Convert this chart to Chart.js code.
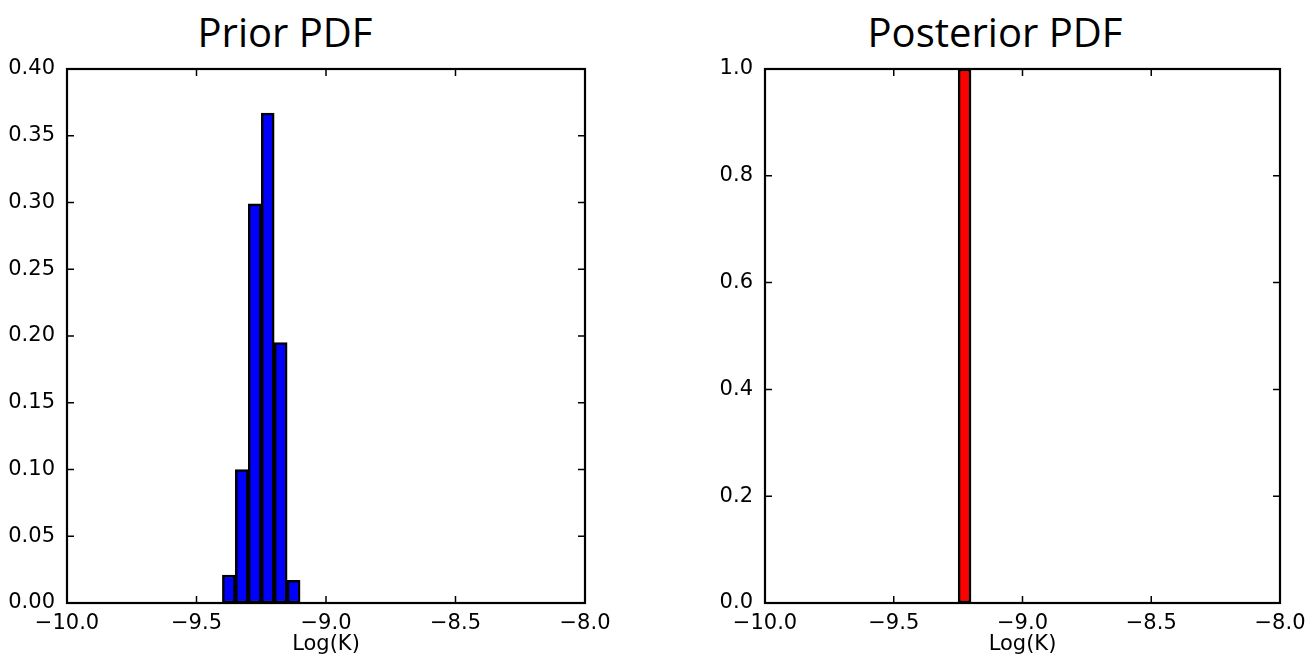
<!DOCTYPE html>
<html>
<head>
<meta charset="utf-8">
<script src="https://cdn.jsdelivr.net/npm/chart.js@4"></script>
<style>
  html, body { margin: 0; padding: 0; background: #fff; }
  #wrap { position: relative; width: 1310px; height: 659px; overflow: hidden; }
  .panel { position: absolute; top: 0; width: 655px; height: 659px; }
  .title {
    position: absolute; top: 4px; width: 400px; text-align: center;
    font-family: "Open Sans", "Noto Sans", sans-serif; font-size: 40px; color: #000;
  }
</style>
</head>
<body>
<div id="wrap">
  <div class="title" style="left:85px">Prior PDF</div>
  <div class="title" style="left:795px">Posterior PDF</div>
  <div class="panel" style="left:0"><canvas id="priorChart"></canvas></div>
  <div class="panel" style="left:655px"><canvas id="postChart"></canvas></div>
</div>
<script>
/* ---------- DATA ---------- */
const priorBins = [-9.375, -9.325, -9.275, -9.225, -9.175, -9.125];
const priorPdf = [0.021, 0.100, 0.299, 0.367, 0.195, 0.017];

const posteriorBins = [-9.275, -9.225, -9.175];
const posteriorPdf = [0, 1.0, 0];

const xTicks = [-10.0, -9.5, -9.0, -8.5, -8.0];
const priorYTicks = [0, 0.05, 0.10, 0.15, 0.20, 0.25, 0.30, 0.35, 0.40];
const postYTicks = [0, 0.2, 0.4, 0.6, 0.8, 1.0];

/* ---------- HELPERS ---------- */
const tickFont = { family: 'DejaVu Sans', size: 21 };
const fmtX = v => (v < 0 ? '\u2212' : '') + Math.abs(v).toFixed(1);

// matplotlib-style frame with inward ticks on all four sides
const frame = {
  id: 'frame',
  afterDraw(chart) {
    const { ctx, chartArea: a, scales } = chart;
    const len = 7;
    ctx.save();
    ctx.strokeStyle = '#000';
    ctx.lineWidth = 1.5;
    ctx.beginPath();
    scales.x.ticks.forEach((t, i) => {
      const px = scales.x.getPixelForTick(i);
      ctx.moveTo(px, a.bottom); ctx.lineTo(px, a.bottom - len);
      ctx.moveTo(px, a.top); ctx.lineTo(px, a.top + len);
    });
    scales.y.ticks.forEach((t, i) => {
      const py = scales.y.getPixelForTick(i);
      ctx.moveTo(a.left, py); ctx.lineTo(a.left + len, py);
      ctx.moveTo(a.right, py); ctx.lineTo(a.right - len, py);
    });
    ctx.stroke();
    ctx.lineWidth = 2.2;
    ctx.strokeRect(a.left, a.top, a.right - a.left, a.bottom - a.top);
    ctx.restore();
  }
};

function makeChart(el, bins, pdf, color, yTicks, yMax, yDigits, yAxisWidth, rightPad) {
  return new Chart(el, {
    type: 'bar',
    data: {
      datasets: [{
        data: bins.map((x, i) => ({ x, y: pdf[i] })),
        backgroundColor: color,
        borderColor: '#000',
        borderWidth: 2.5,
        borderSkipped: false,
        barPercentage: 1,
        categoryPercentage: 1
      }]
    },
    options: {
      responsive: true,
      maintainAspectRatio: false,
      animation: false,
      events: [],
      layout: { padding: { top: 69, right: rightPad, bottom: 0, left: 0 } },
      plugins: { legend: { display: false }, tooltip: { enabled: false } },
      scales: {
        x: {
          type: 'linear',
          min: -10, max: -8,
          offset: false,
          grid: { display: false },
          border: { display: false },
          afterBuildTicks: s => { s.ticks = xTicks.map(v => ({ value: v })); },
          afterFit: s => { s.height = 56; },
          ticks: {
            color: '#000', font: tickFont, padding: 0, maxRotation: 0,
            autoSkip: false, callback: fmtX
          },
          title: {
            display: true, text: 'Log(K)', color: '#000',
            font: { family: 'DejaVu Sans', size: 21 }, padding: { top: 0, bottom: 2 }
          }
        },
        y: {
          min: 0, max: yMax,
          grid: { display: false },
          border: { display: false },
          afterBuildTicks: s => { s.ticks = yTicks.map(v => ({ value: v })); },
          afterFit: s => { s.width = yAxisWidth; },
          ticks: {
            color: '#000', font: tickFont, padding: 4,
            callback: v => v.toFixed(yDigits)
          }
        }
      }
    },
    plugins: [frame]
  });
}

makeChart(document.getElementById('priorChart'), priorBins, priorPdf, '#0000ff',
  priorYTicks, 0.40, 2, 67, 70);
makeChart(document.getElementById('postChart'), posteriorBins, posteriorPdf, '#ff0000',
  postYTicks, 1.0, 1, 110, 30);
</script>
</body>
</html>
